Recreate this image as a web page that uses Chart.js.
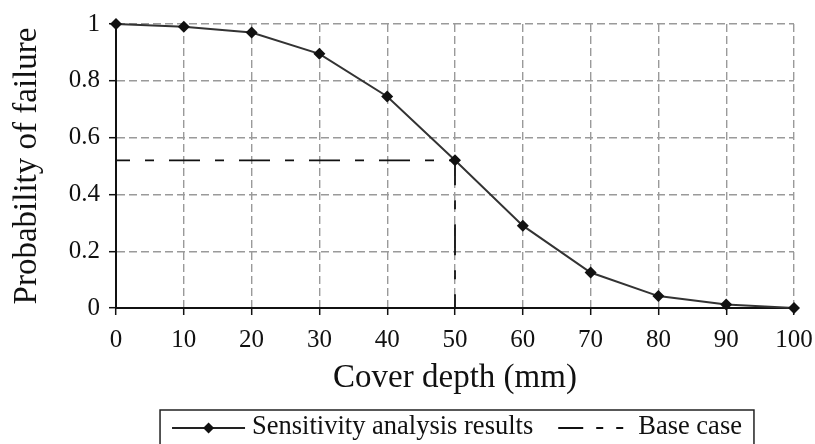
<!DOCTYPE html>
<html>
<head>
<meta charset="utf-8">
<script src="https://cdn.jsdelivr.net/npm/chart.js@4/dist/chart.umd.min.js"></script>
<style>
  html, body { margin: 0; padding: 0; background: #fff; }
  #wrap { width: 815px; height: 444px; }
</style>
</head>
<body>
<div id="wrap"><canvas id="chart" width="815" height="444"></canvas></div>
<script>
// DATA
const coverDepth = [0, 10, 20, 30, 40, 50, 60, 70, 80, 90, 100];
const probFailure = [1.0, 0.99, 0.97, 0.895, 0.745, 0.52, 0.29, 0.125, 0.042, 0.012, 0.0];
const baseCaseX = [0, 50, 50];
const baseCaseY = [0.52, 0.52, 0];
const seriesNames = ["Sensitivity analysis results", "Base case"];

const SERIF = "'Liberation Serif', 'Times New Roman', serif";
const INK = '#111';

const toPoints = (xs, ys) => xs.map((x, i) => ({ x: x, y: ys[i] }));

// boxed legend below the axis title
const boxLegend = {
  id: 'boxLegend',
  afterDraw(chart) {
    const ctx = chart.ctx;
    const area = chart.chartArea;
    ctx.save();
    ctx.font = '26.5px ' + SERIF;
    const w1 = ctx.measureText(seriesNames[0]).width;
    const w2 = ctx.measureText(seriesNames[1]).width;
    const lineLen = 73, gap = 7, spacing = 25, pad = 12;
    const total = lineLen + gap + w1 + spacing + lineLen + gap + w2;
    const boxW = total + pad * 2;
    const cx = (area.left + area.right) / 2 + 2;
    const left = cx - boxW / 2;
    const top = 410;
    const midY = 428;

    ctx.strokeStyle = '#222';
    ctx.lineWidth = 1.5;
    ctx.strokeRect(left, top, boxW, 60);

    // item 1: line + diamond
    let x = left + pad;
    ctx.strokeStyle = '#222';
    ctx.lineWidth = 1.8;
    ctx.beginPath();
    ctx.moveTo(x, midY);
    ctx.lineTo(x + lineLen, midY);
    ctx.stroke();
    const d = 5.5;
    const mx = x + lineLen / 2;
    ctx.fillStyle = '#111';
    ctx.beginPath();
    ctx.moveTo(mx, midY - d);
    ctx.lineTo(mx + d, midY);
    ctx.lineTo(mx, midY + d);
    ctx.lineTo(mx - d, midY);
    ctx.closePath();
    ctx.fill();
    x += lineLen + gap;
    ctx.fillStyle = INK;
    ctx.textBaseline = 'alphabetic';
    ctx.fillText(seriesNames[0], x, 434);
    x += w1 + spacing;

    // item 2: dashed line
    ctx.strokeStyle = '#111';
    ctx.setLineDash([25, 13, 7, 13, 7, 8]);
    ctx.beginPath();
    ctx.moveTo(x, midY);
    ctx.lineTo(x + lineLen, midY);
    ctx.stroke();
    ctx.setLineDash([]);
    x += lineLen + gap;
    ctx.fillText(seriesNames[1], x, 434);
    ctx.restore();
  }
};

const cfg = {
  type: 'line',
  data: {
    datasets: [
      {
        label: seriesNames[0],
        data: toPoints(coverDepth, probFailure),
        borderColor: '#333',
        borderWidth: 2,
        pointStyle: 'rectRot',
        pointRadius: 6,
        pointBackgroundColor: '#111',
        pointBorderColor: '#111',
        pointBorderWidth: 0,
        tension: 0,
        clip: false
      },
      {
        label: seriesNames[1],
        data: toPoints(baseCaseX, baseCaseY),
        borderColor: '#111',
        borderWidth: 1.8,
        borderDash: [31, 15, 9, 15],
        borderDashOffset: 17,
        pointRadius: 0,
        tension: 0,
        clip: false
      }
    ]
  },
  options: {
    responsive: false,
    animation: false,
    layout: { padding: { left: 0, right: 21, top: 24, bottom: 46 } },
    plugins: {
      legend: { display: false },
      tooltip: { enabled: false }
    },
    scales: {
      x: {
        type: 'linear',
        min: 0,
        max: 100,
        afterFit: (s) => { s.height = 90; s.paddingRight = 0; s.paddingLeft = 0; },
        ticks: {
          stepSize: 10,
          padding: 10,
          color: INK,
          font: { family: SERIF, size: 25 },
          maxRotation: 0
        },
        grid: {
          color: '#9a9a9a',
          lineWidth: 1.4,
          tickLength: 7,
          tickColor: '#111',
          tickWidth: 1.5,
          tickBorderDash: []
        },
        border: { display: true, color: '#111', width: 2, dash: [8, 4] },
        title: {
          display: true,
          text: 'Cover depth (mm)',
          color: INK,
          font: { family: SERIF, size: 33 },
          padding: { top: 0, bottom: 0 }
        }
      },
      y: {
        min: 0,
        max: 1,
        afterFit: (s) => { s.width = 116; s.paddingTop = 0; s.paddingBottom = 0; },
        ticks: {
          stepSize: 0.2,
          padding: 9,
          color: INK,
          font: { family: SERIF, size: 25 },
          callback: (v) => String(Number(v.toFixed(1)))
        },
        grid: {
          color: '#9a9a9a',
          lineWidth: 1.4,
          tickLength: 7,
          tickColor: '#111',
          tickWidth: 1.5,
          tickBorderDash: []
        },
        border: { display: true, color: '#111', width: 2, dash: [8, 4] },
        title: {
          display: true,
          text: 'Probability of failure',
          color: INK,
          font: { family: SERIF, size: 33 },
          padding: { top: 8, bottom: 0 }
        }
      }
    }
  },
  plugins: [boxLegend]
};

new Chart(document.getElementById('chart'), cfg);
</script>
</body>
</html>
